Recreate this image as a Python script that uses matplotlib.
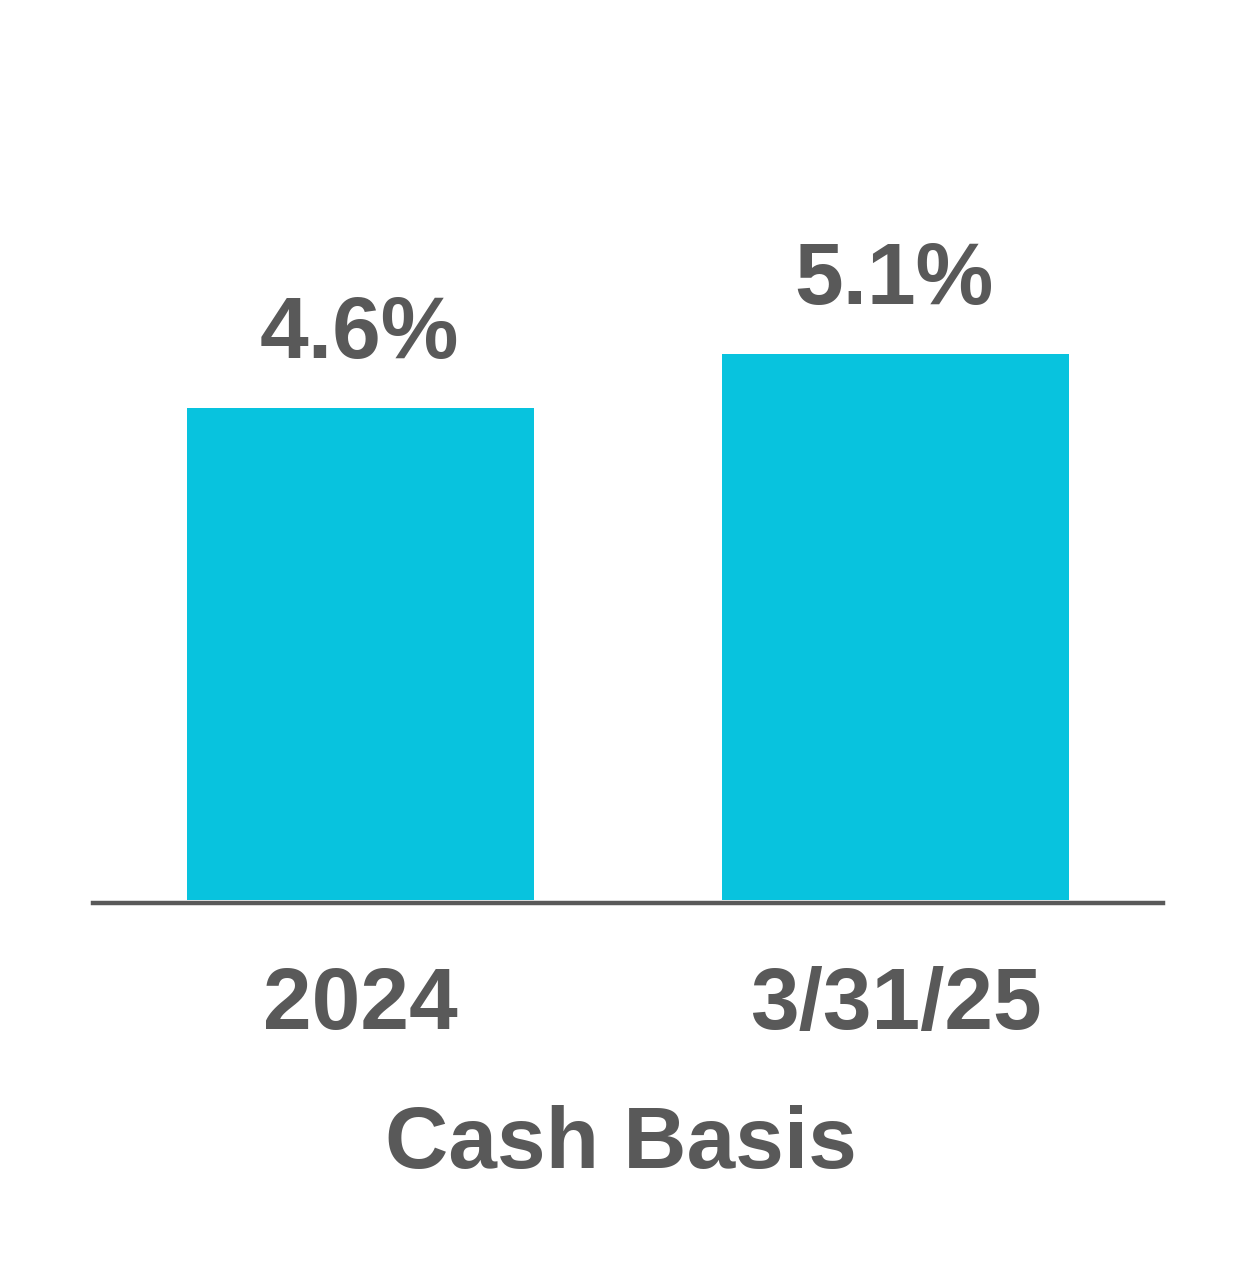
import matplotlib.pyplot as plt
import matplotlib.transforms as mtransforms

# data
categories = ['2024', '3/31/25']
values = [4.6, 5.1]
xlabel = 'Cash Basis'

bar_color = '#08C3DE'
text_color = '#595959'

plt.rcParams['font.family'] = ['Liberation Sans', 'DejaVu Sans']
plt.rcParams['font.weight'] = 'bold'

W, H = 1254, 1272
fig = plt.figure(figsize=(W / 100, H / 100), dpi=100)

# axes: baseline at y=900px, 107 px per unit, x from 92 to 1163 px
y0 = 900
top = y0 - 7 * 107
ax = fig.add_axes([93 / W, (H - y0) / H, (1163 - 93) / W, (y0 - top) / H])

x = list(range(len(categories)))
ax.bar(x, values, width=0.648, color=bar_color, zorder=2)
ax.set_xlim(-0.5, 1.5)
ax.set_ylim(0, 7)

for xi, v in zip(x, values):
    ax.annotate(f'{v}%', (xi, v), xytext=(-1, 36), textcoords='offset points',
                ha='center', va='baseline', fontsize=63, fontweight='bold',
                color=text_color, annotation_clip=False)

ax.tick_params(axis='x', length=0, pad=45, labelsize=63, labelcolor=text_color)
ax.set_xticks(x)
ax.set_xticklabels(categories, fontsize=63, fontweight='bold', color=text_color)
ax.set_yticks([])

# labels sit a touch left of bar centres in the original
shift = mtransforms.ScaledTranslation(-6 / 100, 0, fig.dpi_scale_trans)
for lbl in ax.get_xticklabels():
    lbl.set_transform(lbl.get_transform() + shift)

for s in ['left', 'right', 'top']:
    ax.spines[s].set_visible(False)
ax.spines['bottom'].set_color(text_color)
ax.spines['bottom'].set_linewidth(3.2)
ax.spines['bottom'].set_position(('data', -0.03))
ax.spines['bottom'].set_zorder(3)

fig.text(621 / W, (H - 1168) / H, xlabel, ha='center', va='baseline',
         fontsize=63, fontweight='bold', color=text_color)

fig.savefig('out.png', dpi=100, facecolor='white')
